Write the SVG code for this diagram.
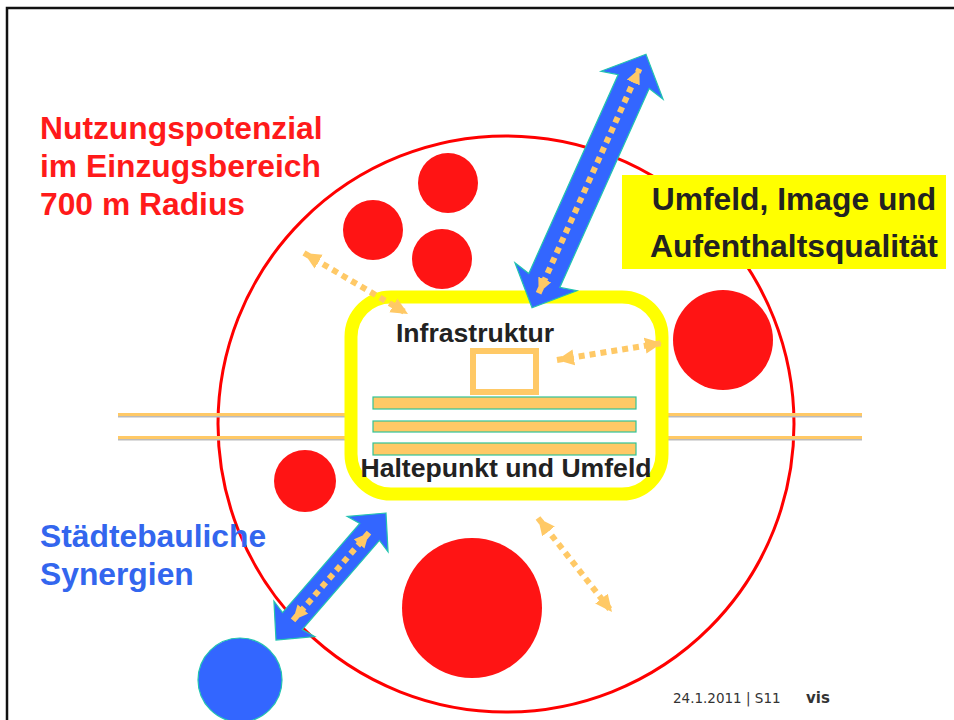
<svg xmlns="http://www.w3.org/2000/svg" width="954" height="720" viewBox="0 0 954 720">
<defs>
<style>
.red{fill:#FF1414}
.t{font-family:"Liberation Sans",Arial,sans-serif;font-weight:bold}
.dot{stroke:#FFC966;stroke-width:6;stroke-dasharray:6 5;fill:none}
.barr{fill:#3366FF;stroke:#22C4B0;stroke-width:1.2}
.bar{fill:#FFC966;stroke:#33C497;stroke-width:1.2}
.rail{stroke:#FFC966;stroke-width:3}
.sh{stroke:#BBBBBB;stroke-width:2}
</style>
<marker id="oh" markerUnits="userSpaceOnUse" markerWidth="18" markerHeight="18" refX="17" refY="8" orient="auto-start-reverse" viewBox="0 0 18 16">
<path d="M0,0 L17,8 L0,16 z" fill="#FFC966"/>
</marker>
<marker id="ohs" markerUnits="userSpaceOnUse" markerWidth="16" markerHeight="14" refX="15" refY="7" orient="auto-start-reverse" viewBox="0 0 16 14">
<path d="M0,0 L15,7 L0,14 z" fill="#FFC966"/>
</marker>
</defs>
<rect x="0" y="0" width="954" height="720" fill="#FFFFFF"/>
<rect x="7" y="8" width="960" height="730" fill="none" stroke="#111111" stroke-width="2.5"/>

<g id="catchment">
<circle cx="506" cy="424" r="288" fill="none" stroke="#FF0000" stroke-width="3"/>
</g>

<g id="rails">
<line class="sh" x1="118" y1="416.5" x2="862" y2="416.5"/>
<line class="sh" x1="118" y1="439.5" x2="862" y2="439.5"/>
<line class="rail" x1="118" y1="414.5" x2="862" y2="414.5"/>
<line class="rail" x1="118" y1="437.5" x2="862" y2="437.5"/>
</g>

<g id="potential-circles">
<circle class="red" cx="448" cy="183" r="30"/>
<circle class="red" cx="373" cy="230" r="30"/>
<circle class="red" cx="442" cy="259" r="30"/>
<circle class="red" cx="723" cy="340" r="50"/>
<circle class="red" cx="305" cy="481" r="31"/>
<circle class="red" cx="472" cy="608" r="70"/>
</g>

<g id="synergy-circle">
<circle cx="240" cy="680" r="42" fill="#3366FF" stroke="#22C4B0" stroke-width="1.2"/>
</g>

<g id="station">
<rect x="351" y="297" width="311" height="197" rx="40" ry="40" fill="#FFFFFF" stroke="#FFFF00" stroke-width="13"/>
<rect x="473" y="351" width="63" height="41" fill="#FFFFFF" stroke="#FFC966" stroke-width="6"/>
<rect class="bar" x="373" y="397" width="263" height="12"/>
<rect class="bar" x="373" y="421" width="263" height="11"/>
<rect class="bar" x="373" y="443" width="263" height="12"/>
<text class="t" x="475" y="342" font-size="26.6" fill="#222222" text-anchor="middle">Infrastruktur</text>
<text class="t" x="506" y="477" font-size="26.6" fill="#222222" text-anchor="middle">Haltepunkt und Umfeld</text>
</g>

<g id="label-umfeld">
<rect x="622" y="175" width="324" height="94" fill="#FFFF00"/>
<text class="t" x="794" y="210" font-size="31.8" fill="#222222" text-anchor="middle">Umfeld, Image und</text>
<text class="t" x="794" y="257" font-size="31.8" fill="#222222" text-anchor="middle">Aufenthaltsqualität</text>
</g>

<g id="label-nutzung">
<text class="t" font-size="31.8" fill="#FF1A1A"><tspan x="40" y="139">Nutzungspotenzial</tspan><tspan x="40" y="177">im Einzugsbereich</tspan><tspan x="40" y="215">700 m Radius</tspan></text>
</g>

<g id="label-synergien">
<text class="t" font-size="31.8" fill="#3366EE"><tspan x="40" y="547">Städtebauliche</tspan><tspan x="40" y="585">Synergien</tspan></text>
</g>

<g id="connectors">
<g transform="translate(589,181) rotate(-65.8)">
<polygon class="barr" points="139,0 105,-34 109,-17 -109,-17 -105,-34 -139,0 -105,34 -109,17 109,17 105,34"/>
<line class="dot" x1="-123" y1="0" x2="123" y2="0" marker-start="url(#ohs)" marker-end="url(#ohs)"/>
</g>
<g transform="translate(331,576.5) rotate(-49.1)">
<polygon class="barr" points="84,0 56,-27 59,-13 -59,-13 -56,-27 -84,0 -56,27 -59,13 59,13 56,27"/>
<line class="dot" x1="-58" y1="0" x2="58" y2="0" stroke-width="5.5" marker-start="url(#ohs)" marker-end="url(#ohs)"/>
</g>
<line class="dot" x1="304" y1="253" x2="408" y2="314" marker-start="url(#oh)" marker-end="url(#oh)"/>
<line class="dot" x1="557" y1="360" x2="662" y2="343" marker-start="url(#oh)" marker-end="url(#oh)"/>
<line class="dot" x1="538" y1="518" x2="612" y2="612" marker-start="url(#oh)" marker-end="url(#oh)"/>
</g>

<g id="footer">
<text x="673" y="703" font-family="DejaVu Sans,Verdana,sans-serif" font-size="13.5" fill="#333333">24.1.2011 | S11</text>
<text x="806" y="703" font-family="DejaVu Sans,Verdana,sans-serif" font-weight="bold" font-size="15" fill="#333333">vis</text>
</g>
</svg>
